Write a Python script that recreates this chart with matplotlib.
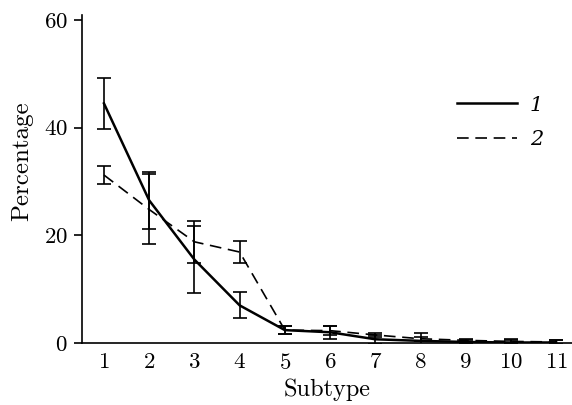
import matplotlib
matplotlib.use("Agg")
import matplotlib.pyplot as plt
from matplotlib.lines import Line2D

# ---- data ------------------------------------------------------------------
subtypes = [1, 2, 3, 4, 5, 6, 7, 8, 9, 10, 11]

pct_1   = [44.5, 26.5, 15.5, 7.0, 2.4, 2.0, 0.7, 0.4, 0.2, 0.1, 0.1]
err_1   = [4.8, 5.3, 6.2, 2.4, 0.7, 1.2, 0.8, 1.4, 0.4, 0.6, 0.5]

pct_2   = [31.2, 24.8, 18.8, 16.9, 2.4, 2.3, 1.5, 0.8, 0.5, 0.3, 0.2]
err_2   = [1.6, 6.5, 3.9, 2.1, 0.7, 0.9, 0.3, 0.4, 0.3, 0.3, 0.3]

y_ticks = [0, 20, 40, 60]

# ---- style -----------------------------------------------------------------
plt.rcParams["font.family"] = "serif"
plt.rcParams["font.serif"] = ["cmr10", "DejaVu Serif"]
plt.rcParams["axes.formatter.use_mathtext"] = True
FS = 16.5

fig = plt.figure(figsize=(5.72, 4.05), dpi=100)
ax = fig.add_axes([0.143, 0.153, 0.857, 0.811])

ax.errorbar(subtypes, pct_1, yerr=err_1, color="black", lw=1.8,
            elinewidth=1.2, capsize=5, capthick=1.2)
ax.errorbar(subtypes, pct_2, yerr=err_2, color="black", lw=1.2,
            dashes=(7, 4), elinewidth=1.2, capsize=5, capthick=1.2)

ax.set_xlim(0.51, 11.35)
ax.set_ylim(0, 61)
ax.set_xticks(subtypes)
ax.set_yticks(y_ticks)
ax.tick_params(axis="x", length=0, labelsize=FS, pad=7)
ax.tick_params(axis="y", length=6, width=1.2, labelsize=FS, pad=4)

ax.spines["top"].set_visible(False)
ax.spines["right"].set_visible(False)
ax.spines["left"].set_linewidth(1.2)
ax.spines["bottom"].set_linewidth(1.2)

ax.set_xlabel("Subtype", fontsize=17.5, labelpad=4)
ax.set_ylabel("Percentage", fontsize=18)
ax.yaxis.set_label_coords(-0.1, 0.553)

handles = [Line2D([], [], color="black", lw=1.8),
           Line2D([], [], color="black", lw=1.2, dashes=(7, 4))]
ax.legend(handles, ["1", "2"], loc="upper left", bbox_to_anchor=(0.727, 0.81),
          frameon=False, handlelength=2.9, labelspacing=0.75, handletextpad=0.6,
          prop={"family": "DejaVu Serif", "style": "italic", "size": 15})

fig.savefig("out.png", dpi=100)
